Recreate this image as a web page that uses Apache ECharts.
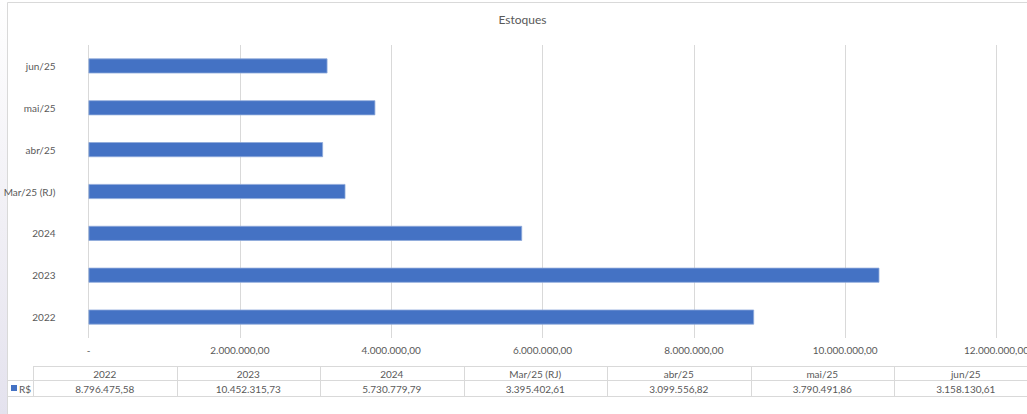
<!DOCTYPE html>
<html>
<head>
<meta charset="utf-8">
<script src="https://cdn.jsdelivr.net/npm/echarts@6/dist/echarts.min.js"></script>
<style>
html,body{margin:0;padding:0;background:#fff;}
#c{width:1027px;height:414px;}
</style>
</head>
<body>
<div id="c"></div>
<script>
var categories = ['2022', '2023', '2024', 'Mar/25 (RJ)', 'abr/25', 'mai/25', 'jun/25'];
var values = [8796475.58, 10452315.73, 5730779.79, 3395402.61, 3099556.82, 3790491.86, 3158130.61];
var seriesName = 'R$';
var chartTitle = 'Estoques';

function fmt(v) {
  var s = Math.abs(v).toFixed(2);
  var parts = s.split('.');
  var ip = parts[0].replace(/\B(?=(\d{3})+(?!\d))/g, '.');
  return (v < 0 ? '-' : '') + ip + ',' + parts[1];
}

var FONT = 'Lato, "Open Sans", sans-serif';
var TXT = '#595959';
var LINE = '#D9D9D9';

var chart = echarts.init(document.getElementById('c'), null, {renderer: 'svg'});

var tblLeft = 33, colW = 143.5, yTop = 366, yMid = 380, yBot = 396;
var g = [];
g.push({type: 'rect', shape: {x: 7.5, y: 2.5, width: 1040, height: 430}, style: {fill: 'none', stroke: LINE, lineWidth: 1}, z: 0});
g.push({type: 'rect', shape: {x: 0, y: 0, width: 7, height: 414},
  style: {fill: new echarts.graphic.LinearGradient(0, 0, 0, 1, [{offset: 0, color: 'rgba(230,228,238,0)'}, {offset: 0.55, color: 'rgba(230,228,238,0.6)'}, {offset: 1, color: '#E4E2EE'}])}, z: 0});
g.push({type: 'line', shape: {x1: tblLeft, y1: yTop + 0.5, x2: 1040, y2: yTop + 0.5}, style: {stroke: LINE, lineWidth: 1}});
g.push({type: 'line', shape: {x1: 7.5, y1: yMid + 0.5, x2: 1040, y2: yMid + 0.5}, style: {stroke: LINE, lineWidth: 1}});
g.push({type: 'line', shape: {x1: 7.5, y1: yBot + 0.5, x2: 1040, y2: yBot + 0.5}, style: {stroke: LINE, lineWidth: 1}});
for (var k = 0; k <= categories.length; k++) {
  var x = Math.round(tblLeft + k * colW) + 0.5;
  g.push({type: 'line', shape: {x1: x, y1: yTop, x2: x, y2: yBot}, style: {stroke: LINE, lineWidth: 1}});
}
for (var i = 0; i < categories.length; i++) {
  var cx = tblLeft + (i + 0.5) * colW;
  g.push({type: 'text', x: cx, y: (yTop + yMid) / 2 + 0.5, style: {text: categories[i], fill: TXT, font: '10px ' + FONT, align: 'center', verticalAlign: 'middle'}});
  g.push({type: 'text', x: cx, y: (yMid + yBot) / 2 + 0.5, style: {text: fmt(values[i]), fill: TXT, font: '10px ' + FONT, align: 'center', verticalAlign: 'middle'}});
}
g.push({type: 'rect', shape: {x: 11, y: 385, width: 6, height: 6}, style: {fill: '#4472C4'}});
g.push({type: 'text', x: 19, y: (yMid + yBot) / 2 + 0.5, style: {text: seriesName, fill: TXT, font: '10px ' + FONT, align: 'left', verticalAlign: 'middle'}});
g.push({type: 'text', x: 522.5, y: 19, style: {text: chartTitle, fill: TXT, font: '12px ' + FONT, align: 'center', verticalAlign: 'middle'}});

var option = {
  backgroundColor: '#fff',
  animation: false,
  grid: {left: 88.5, right: 30.5, top: 45, bottom: 76, containLabel: false, outerBoundsMode: 'none'},
  xAxis: {
    type: 'value', min: 0, max: 12000000, interval: 2000000,
    axisLine: {show: false}, axisTick: {show: false},
    splitLine: {show: true, lineStyle: {color: LINE, width: 1}},
    axisLabel: {
      margin: 7, color: TXT, fontFamily: FONT, fontSize: 10,
      formatter: function (v) { return v === 0 ? '-' : fmt(v); }
    }
  },
  yAxis: {
    type: 'category', data: categories,
    axisLine: {show: false}, axisTick: {show: false},
    axisLabel: {margin: 33, color: TXT, fontFamily: FONT, fontSize: 10}
  },
  series: [{
    name: seriesName, type: 'bar', data: values, barWidth: 15,
    itemStyle: {color: '#4472C4', borderColor: '#8EA9DB', borderWidth: 0.8}
  }],
  graphic: g
};
chart.setOption(option);
</script>
</body>
</html>
